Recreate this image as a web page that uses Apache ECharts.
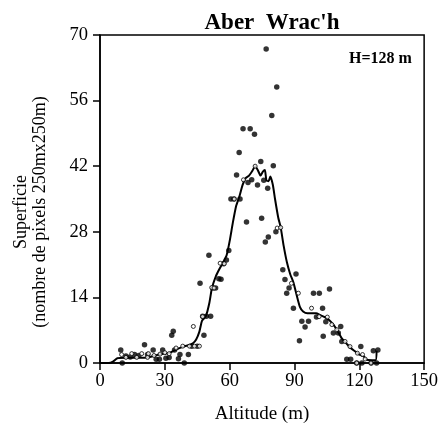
<!DOCTYPE html>
<html>
<head>
<meta charset="utf-8">
<script src="https://cdn.jsdelivr.net/npm/echarts@6/dist/echarts.min.js"></script>
<style>html,body{margin:0;padding:0;background:#fff}#c{width:441px;height:438px}</style>
</head>
<body>
<div id="c"></div>
<script>
// Smoothed curve (altitude m, surface)
const lineAlt = [0,4,6,8,12,16,20,24,28,32,35,38,41,43,44.5,46,47.2,49,50.6,51.8,53.6,55.2,57,58.6,60,61.5,63,64.5,66,67.5,69,70.5,71.8,73,74.3,75.3,76.3,77,78,78.8,80,81,82.5,83.6,85,86.5,88,89.5,91,92.5,94,96,98,100,102,104,106,108,110,112,114,116,118,120,122,123.5,127.5,128];
const lineVal = [0,0,0.3,1.0,1.1,1.1,1.1,1.4,1.9,2.1,2.8,3.4,3.8,4.2,5,6.7,9,10,12.8,16,18.5,20,21.5,23,26,30,33.5,35.5,38,39.5,40,41,42,41.2,40,40.8,41.2,39,38.8,39.8,38,35,31,29,25,21.5,19,17.2,14.5,12,11,10.6,10.6,10.6,10.2,9.8,9.2,8.2,6.8,5.2,4.2,3.2,2.5,1.8,1.4,0.7,0.6,2.6];

// Open circles (smoothed values)
const circAlt = [10,12,14.7,17,19.3,22,22.4,25,27.8,30,32,35.2,38.3,41.4,43.7,46,43.2,47.5,51.7,52.8,55.6,57.5,62.1,66.4,71.8,82,83.6,88.6,91.8,97.9,101.4,105.2,107.3,109.6,113.4,115.7,119.1,121.5,122.7,118.8,125.4];
const circVal = [1.8,1.2,2.0,1.2,2.0,1.2,2.0,1.6,1.9,2.2,2.0,3.2,3.6,3.6,3.6,3.6,7.8,9.9,16.1,16,21.3,21.2,35,39.1,42,28.8,28.9,17,14.9,11.7,9.9,9.8,8.2,7.1,4.6,3.5,2.1,1.8,0.85,0,0];

// Raw values (filled dots)
const dotAlt = [9.6,10.3,12,14,16,18,20.6,22,24.6,26,27.5,29,30.5,32,33.2,33.9,34.5,36.3,37,39,40.9,42.5,45,
  46.3,47.5,48.1,49.2,50.4,51.2,52.2,53.5,55,56,57.2,58.5,59.6,60.6,62,63.2,64.4,64.8,66.2,67.8,68.5,69.5,70.2,71.5,72.9,74.4,74.8,75.8,76.5,76.9,77.6,77.9,79.5,80.2,81.4,81.8,
  84.6,85.6,86.4,87.5,89.5,90.7,92.3,93.4,94.9,96.5,98.8,100.2,101.5,103,103.3,104.5,106.2,108,110.3,111.4,111.9,114.2,116,118.8,120.7,121.2,125.5,126.5,128,128.6];
const dotVal = [2.8,0,1.5,1.3,1.8,1.6,3.9,1.8,2.8,0.8,0.8,2.8,1.0,1.2,5.9,6.8,2.8,0.9,1.8,0,1.8,3.6,3.6,
  17,10,5.9,10,23,10,16,16,18,17.9,21.2,22,24,35,35,40.1,44.9,35,50,30.1,38.5,50,39.1,48.8,38,43,30.9,39,25.8,67,37.3,26.9,52.8,42.1,28,58.9,
  19.9,17.8,14.9,16,11.7,19,4.75,8.9,7.7,8.9,14.9,9.8,14.9,11.7,5.7,8.8,15.8,6.4,6.4,7.8,4.6,0.8,0.8,0,3.5,0,0,2.6,0,2.8];

const xTicks = {min:0, max:150, step:30};
const yTicks = {min:0, max:70, step:14};

const zip = (a,b) => a.map((v,i)=>[v,b[i]]);
const serif = '"Liberation Serif", "DejaVu Serif", serif';

const chart = echarts.init(document.getElementById('c'), null, {renderer:'canvas'});
chart.setOption({
  animation:false,
  backgroundColor:'#fff',
  title:[
    {text:"Aber  Wrac'h", left:267, top:7, textAlign:'center',
     textStyle:{fontFamily:serif, fontSize:23, fontWeight:'bold', color:'#000'}},
    {text:'H=128 m', left:344, top:46,
     textStyle:{fontFamily:serif, fontSize:16, fontWeight:'bold', color:'#000'}}
  ],
  graphic:[
    {type:'text', x:31, y:212, rotation:Math.PI/2,
     style:{text:'Superficie\n(nombre de pixels 250mx250m)', fontFamily:serif, fontSize:18,
            lineHeight:19, fill:'#000', align:'center', verticalAlign:'middle'}}
  ],
  grid:{left:100, right:15, top:35, bottom:75, show:true, borderColor:'#000', borderWidth:1.5, backgroundColor:'transparent'},
  xAxis:{type:'value', min:xTicks.min, max:xTicks.max, interval:xTicks.step,
    name:'Altitude (m)', nameLocation:'middle', nameGap:42,
    nameTextStyle:{fontFamily:serif, fontSize:19, color:'#000'},
    axisLine:{show:true, lineStyle:{color:'#000', width:1.5}},
    axisTick:{show:true, length:7, lineStyle:{color:'#000', width:1.5}},
    axisLabel:{fontFamily:serif, fontSize:18.5, color:'#000', margin:9},
    splitLine:{show:false}},
  yAxis:{type:'value', min:yTicks.min, max:yTicks.max, interval:yTicks.step,
    axisLine:{show:true, lineStyle:{color:'#000', width:1.5}},
    axisTick:{show:true, length:7, lineStyle:{color:'#000', width:1.5}},
    axisLabel:{fontFamily:serif, fontSize:18.5, color:'#000', margin:12},
    splitLine:{show:false}},
  series:[
    {type:'scatter', data:zip(dotAlt,dotVal), symbol:'circle', symbolSize:5.5,
     itemStyle:{color:'#000'}, z:2},
    {type:'line', data:zip(lineAlt,lineVal), showSymbol:false, smooth:0.2,
     lineStyle:{color:'#000', width:2}, z:3},
    {type:'scatter', data:zip(circAlt,circVal), symbol:'circle', symbolSize:4,
     itemStyle:{color:'#fff', borderColor:'#000', borderWidth:1}, z:4}
  ]
});
</script>
</body>
</html>
